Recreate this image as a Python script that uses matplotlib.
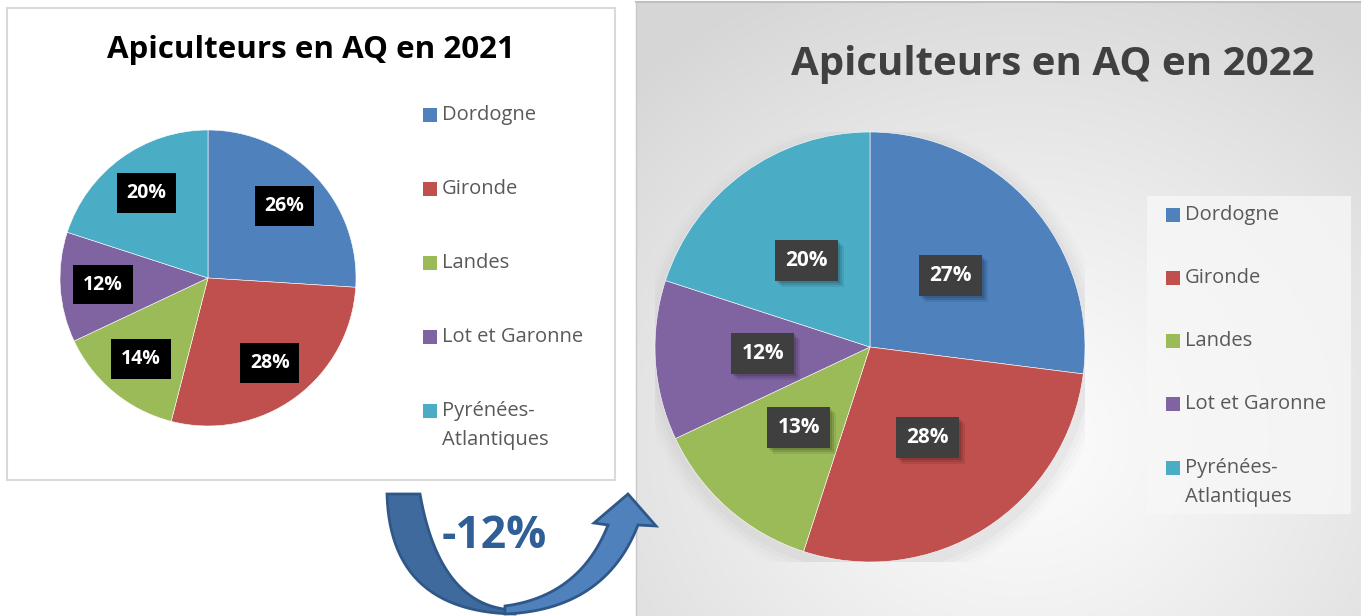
import numpy as np
import matplotlib
matplotlib.use("Agg")
import matplotlib.pyplot as plt
from matplotlib.patches import Rectangle

plt.rcParams['font.family'] = ['Open Sans', 'DejaVu Sans']
plt.rcParams['hatch.color'] = '#585858'
plt.rcParams['hatch.linewidth'] = 0.6

# data
regions = ['Dordogne', 'Gironde', 'Landes', 'Lot et Garonne', 'Pyrénées-\nAtlantiques']
share_2021 = [26, 28, 14, 12, 20]
share_2022 = [27, 28, 13, 12, 20]
colors = ['#4F81BD', '#C0504D', '#9BBB59', '#8064A2', '#4BACC6']
change_label = '-12%'

W, H = 1361, 616
fig = plt.figure(figsize=(W / 100, H / 100), dpi=100)
fig.patch.set_facecolor('white')

# background axis in pixel coords (y down)
bg = fig.add_axes([0, 0, 1, 1])
bg.set_xlim(0, W)
bg.set_ylim(H, 0)
bg.axis('off')

# left white box
bg.add_patch(Rectangle((7, 8), 608, 472, facecolor='white', edgecolor='#d9d9d9', lw=1.5))

# right gray radial gradient panel
x0, x1, y0, y1 = 636, W, 2, H
xx, yy = np.meshgrid(np.linspace(x0, x1, 300), np.linspace(y0, y1, 260))
d = np.sqrt((xx - 1020) ** 2 + ((yy - 440) / 0.9) ** 2)
v = np.clip(d / 560, 0, 1)
g = 0.99 - 0.15 * v ** 1.2
img = np.dstack([g, g, g])
bg.imshow(img, extent=[x0, x1, y1, y0], aspect='auto', zorder=0.5)
bg.plot([x0, x1], [y0, y0], color='#bfbfbf', lw=1.5, zorder=1)
bg.plot([x0, x0], [y0, y1], color='#c8c8c8', lw=1, zorder=1)

# legend box on right
bg.add_patch(Rectangle((1147, 196), 204, 318, facecolor='#f7f7f7', edgecolor='none', alpha=0.8, zorder=1))

# titles
bg.text(311, 50, 'Apiculteurs en AQ en 2021', ha='center', va='center',
        fontsize=22.5, fontweight='bold', color='black')
bg.text(1053, 65, 'Apiculteurs en AQ en 2022', ha='center', va='center',
        fontsize=29, fontweight='bold', color='#404040', zorder=2)


# legends
def draw_legend(xs, ys, size):
    for i, (name, c) in enumerate(zip(regions, colors)):
        y = ys[i]
        bg.add_patch(Rectangle((xs, y - 7), 14, 14, facecolor=c, edgecolor='none', zorder=3))
        for j, line in enumerate(name.split('\n')):
            bg.text(xs + 19, y + 29 * j, line, ha='left', va='center',
                    fontsize=size, color='#595959', zorder=3)


draw_legend(423, [115, 189, 263, 337, 411], 14.5)
draw_legend(1166, [215, 278, 341, 404, 468], 14.5)


# curved arrow
def quad(p0, c, p1, n=30):
    t = np.linspace(0, 1, n)[:, None]
    return (1 - t) ** 2 * np.array(p0) + 2 * (1 - t) * t * np.array(c) + t ** 2 * np.array(p1)


left_pts = np.vstack([quad((387, 494), (390, 612), (515, 614)),
                      quad((515, 610), (440, 608), (420, 494))])
bg.add_patch(plt.Polygon(left_pts, closed=True, facecolor='#3F6A9E', edgecolor='#2F5888', lw=2, zorder=4))
right_pts = np.vstack([quad((505, 614), (605, 610), (638, 525)),
                       [(656, 526), (628, 494), (594, 523), (608, 525)],
                       quad((608, 525), (580, 596), (505, 606))])
bg.add_patch(plt.Polygon(right_pts, closed=True, facecolor='#4F81BD', edgecolor='#2F5888', lw=2, zorder=4))
bg.text(494, 537, change_label, ha='center', va='center', fontsize=32,
        fontweight='bold', color='#2F5F96', zorder=5)


def pie_axes(cx, cy, r):
    ax = fig.add_axes([(cx - r) / W, (H - cy - r) / H, 2 * r / W, 2 * r / H])
    ax.axis('off')
    return ax


# left pie
ax1 = pie_axes(208, 278, 148)
w1, t1, a1 = ax1.pie(share_2021, colors=colors, startangle=90, counterclock=False, radius=1,
                     autopct='%d%%', pctdistance=0.71,
                     wedgeprops=dict(edgecolor='white', linewidth=0.4),
                     textprops=dict(color='white', fontsize=14, fontweight='bold'))
ax1.set_xlim(-1, 1)
ax1.set_ylim(-1, 1)
for a in a1:
    a.set_bbox(dict(boxstyle='square,pad=0.5', facecolor='black', edgecolor='none'))

# right pie with soft shadow
r2 = 215
ax2 = pie_axes(870, 347, r2)
for k, al in enumerate([0.05, 0.04, 0.03, 0.02]):
    ax2.add_patch(plt.Circle((0.01, -0.03), 1.0 + 0.02 * (k + 1), color='#808080', alpha=al, lw=0))
w2, t2, a2 = ax2.pie(share_2022, colors=colors, startangle=90, counterclock=False, radius=1,
                     autopct='%d%%', pctdistance=0.5,
                     wedgeprops=dict(edgecolor='white', linewidth=0.4),
                     textprops=dict(color='white', fontsize=15, fontweight='bold'))
ax2.set_xlim(-1, 1)
ax2.set_ylim(-1, 1)
bw, bh = 63 / r2, 41 / r2
for a in a2:
    x, y = a.get_position()
    a.set_zorder(6)
    for k, al in enumerate([0.12, 0.1, 0.08]):
        o = (2 + 2 * k) / r2
        ax2.add_patch(Rectangle((x - bw / 2 + o, y - bh / 2 - o), bw, bh,
                                facecolor='black', alpha=al, edgecolor='none', zorder=4))
    ax2.add_patch(Rectangle((x - bw / 2, y - bh / 2), bw, bh, facecolor='#3F3F3F',
                            edgecolor='none', hatch='..', zorder=5))

fig.savefig('out.png', dpi=100, facecolor='white')
